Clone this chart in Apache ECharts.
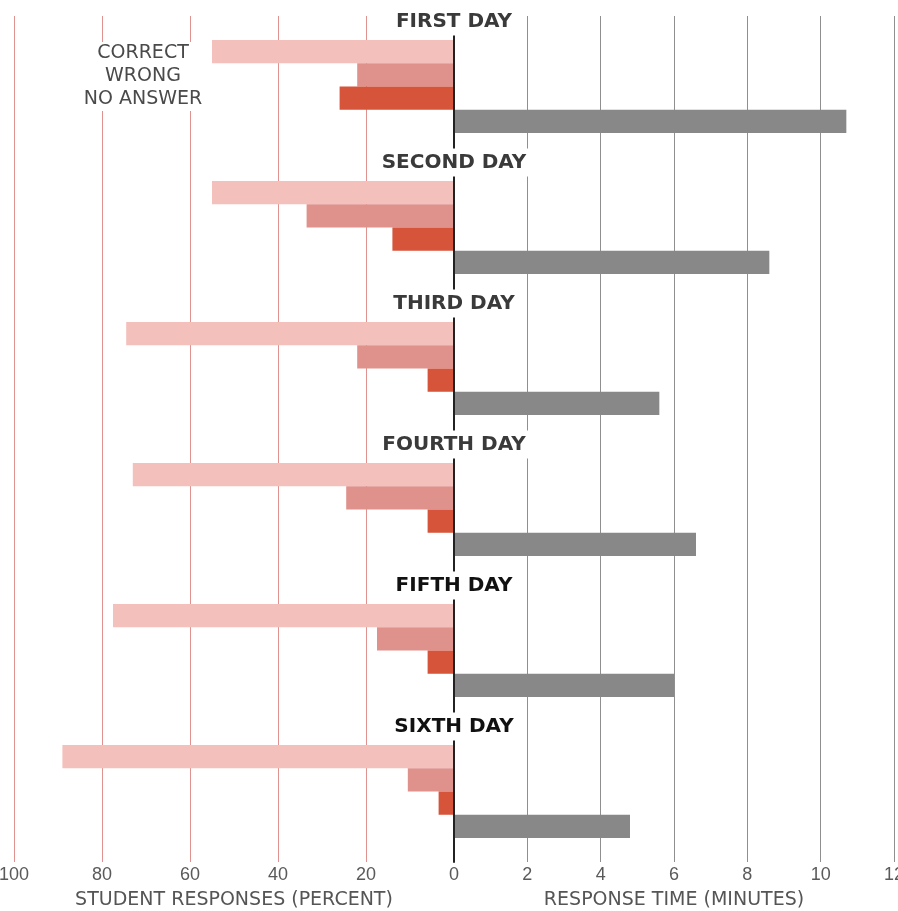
<!DOCTYPE html>
<html>
<head>
<meta charset="utf-8">
<script src="https://cdn.jsdelivr.net/npm/echarts@6/dist/echarts.min.js"></script>
<style>
  html, body { margin: 0; padding: 0; background: #fff; }
  #chart { width: 898px; height: 911px; }
</style>
</head>
<body>
<div id="chart"></div>
<script>
// values
const days = ['FIRST DAY', 'SECOND DAY', 'THIRD DAY', 'FOURTH DAY', 'FIFTH DAY', 'SIXTH DAY'];
const correct = [55, 55, 74.5, 73, 77.5, 89];      // percent
const wrong = [22, 33.5, 22, 24.5, 17.5, 10.5];    // percent
const noAnswer = [26, 14, 6, 6, 6, 3.5];           // percent
const minutes = [10.7, 8.6, 5.6, 6.6, 6.0, 4.8];   // response time
const blank = days.map(() => '-');                 // keeps a slot free in each band

const chart = echarts.init(document.getElementById('chart'));

const tickFont = { fontFamily: 'Liberation Sans', fontSize: 18, color: '#5a5a5a' };
const nameFont = { fontFamily: 'DejaVu Sans', fontSize: 19, color: '#555' };
const dayFont = { fontFamily: 'DejaVu Sans', fontSize: 20, fontWeight: 'bold', backgroundColor: '#fff', padding: [4, 6, 4, 6] };

const bar = (name, data, color, idx) => ({
  name, type: 'bar', data,
  xAxisIndex: idx, yAxisIndex: idx,
  barGap: '0%', barCategoryGap: '34%',
  itemStyle: { color },
  silent: true
});

chart.setOption({
  backgroundColor: '#fff',
  animation: false,
  grid: [
    { left: 14, width: 440, top: 16, height: 846, outerBoundsMode: 'none' },
    { left: 454, width: 440, top: 16, height: 846, outerBoundsMode: 'none' }
  ],
  xAxis: [
    {
      gridIndex: 0, type: 'value', min: 0, max: 100, interval: 20, inverse: true,
      axisLine: { show: false }, axisTick: { show: false },
      splitLine: { show: true, showMinLine: false, lineStyle: { color: '#e0938e', width: 1 } },
      axisLabel: { ...tickFont, margin: 4, formatter: v => (v === 0 ? '' : v) },
      name: 'STUDENT RESPONSES (PERCENT)', nameLocation: 'middle', nameGap: 29,
      nameTextStyle: nameFont
    },
    {
      gridIndex: 1, type: 'value', min: 0, max: 12, interval: 2,
      axisLine: { show: false }, axisTick: { show: false },
      splitLine: { show: true, showMinLine: false, lineStyle: { color: '#8f8f8f', width: 1 } },
      axisLabel: { ...tickFont, margin: 4 },
      name: 'RESPONSE TIME (MINUTES)', nameLocation: 'middle', nameGap: 29,
      nameTextStyle: nameFont
    }
  ],
  yAxis: [
    {
      gridIndex: 0, type: 'category', data: days, inverse: true, position: 'right', z: 5,
      axisLine: { show: true, lineStyle: { color: '#222', width: 2 } },
      axisTick: { show: false },
      axisLabel: {
        interval: 0, margin: 0, align: 'center', verticalAlign: 'middle',
        padding: [0, 0, 130, 0],
        formatter: (v, i) => (i >= 4 ? '{b|' + v + '}' : '{a|' + v + '}'),
        rich: {
          a: { ...dayFont, color: '#3a3a3a' },
          b: { ...dayFont, color: '#111' }
        }
      }
    },
    { gridIndex: 1, type: 'category', data: days, inverse: true, show: false }
  ],
  graphic: [{
    type: 'text', x: 143, y: 42, z: 10,
    style: {
      text: 'CORRECT\nWRONG\nNO ANSWER', align: 'center', verticalAlign: 'top',
      font: '19px "DejaVu Sans"', lineHeight: 23, fill: '#4a4a4a',
      backgroundColor: '#fff', padding: [0, 6]
    }
  }],
  series: [
    bar('Correct', correct, '#f3c0bb', 0),
    bar('Wrong', wrong, '#df928c', 0),
    bar('No answer', noAnswer, '#d6553a', 0),
    bar('', blank, '#fff', 0),
    bar('', blank, '#fff', 1),
    bar('', blank, '#fff', 1),
    bar('', blank, '#fff', 1),
    bar('Minutes', minutes, '#888888', 1)
  ]
});
</script>
</body>
</html>
